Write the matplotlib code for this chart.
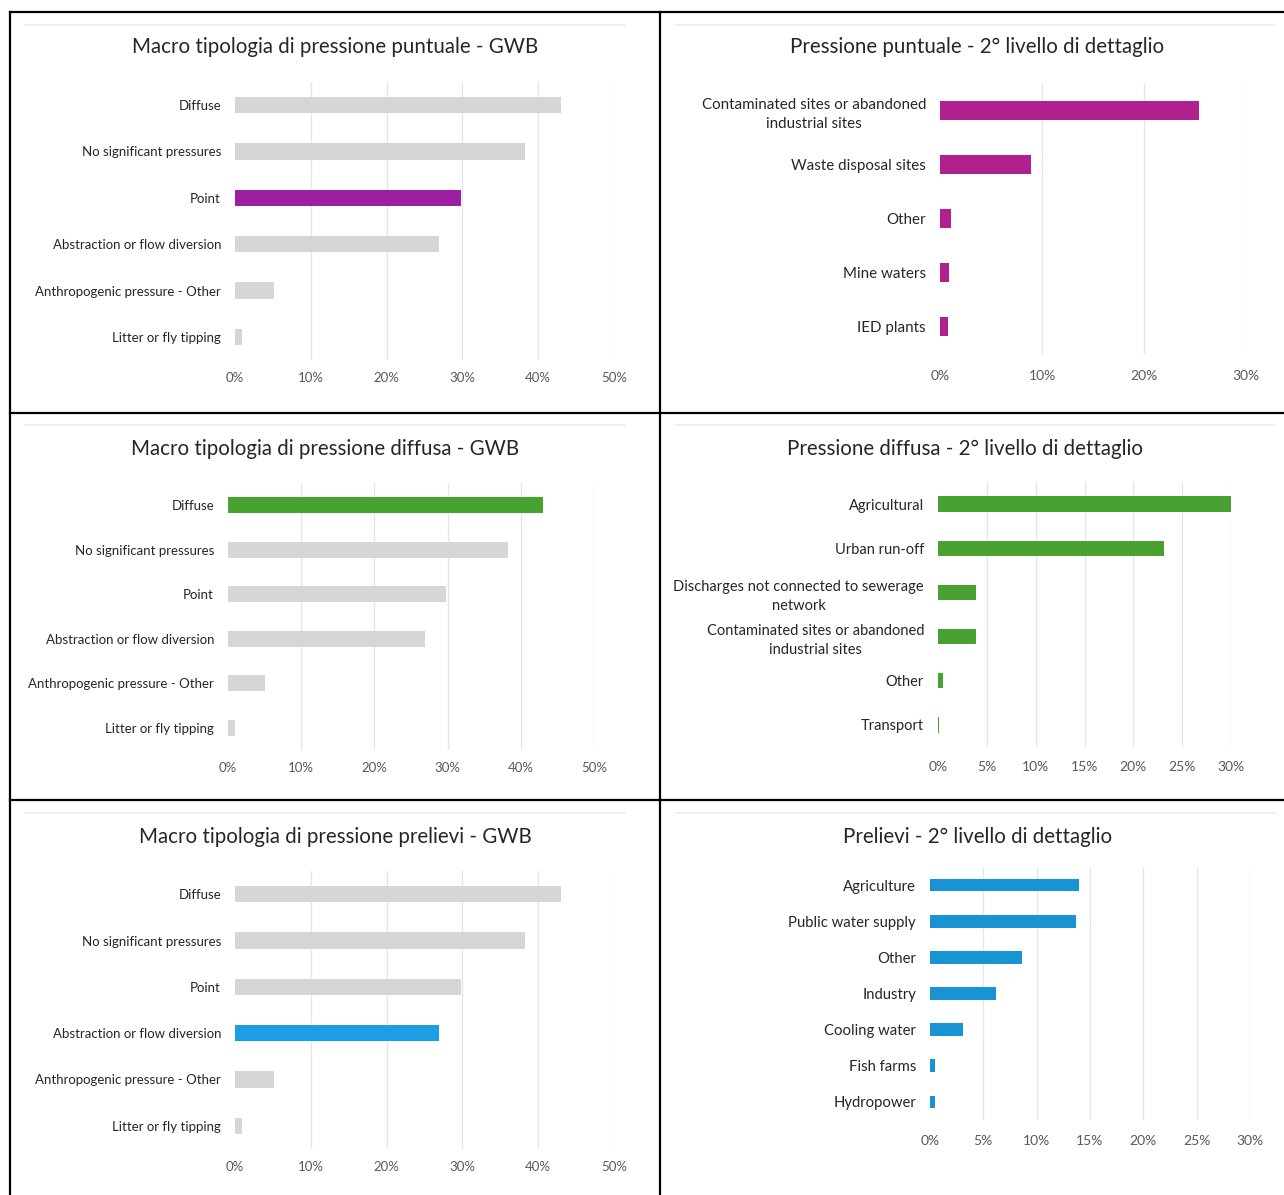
import matplotlib
matplotlib.use("Agg")
import matplotlib.pyplot as plt
from matplotlib.lines import Line2D

plt.rcParams['font.family'] = ['Lato', 'DejaVu Sans']

# ---------------- data ----------------
macro_cats = ["Diffuse", "No significant pressures", "Point",
              "Abstraction or flow diversion", "Anthropogenic pressure - Other",
              "Litter or fly tipping"]
macro_vals = [43.0, 38.2, 29.8, 26.9, 5.1, 0.9]

point_cats = ["Contaminated sites or abandoned\nindustrial sites", "Waste disposal sites",
              "Other", "Mine waters", "IED plants"]
point_vals = [25.4, 8.9, 1.1, 0.9, 0.8]

diffuse_cats = ["Agricultural", "Urban run-off",
                "Discharges not connected to sewerage\nnetwork",
                "Contaminated sites or abandoned\nindustrial sites",
                "Other", "Transport"]
diffuse_vals = [30.2, 23.1, 3.9, 3.9, 0.5, 0.1]

abstr_cats = ["Agriculture", "Public water supply", "Other", "Industry",
              "Cooling water", "Fish farms", "Hydropower"]
abstr_vals = [14.0, 13.7, 8.6, 6.2, 3.1, 0.5, 0.5]

macro_ticks = [0, 10, 20, 30, 40, 50]
point_ticks = [0, 10, 20, 30]
detail_ticks = [0, 5, 10, 15, 20, 25, 30]

titles = ["Macro tipologia di pressione puntuale - GWB",
          "Pressione puntuale - 2° livello di dettaglio",
          "Macro tipologia di pressione diffusa - GWB",
          "Pressione diffusa - 2° livello di dettaglio",
          "Macro tipologia di pressione prelievi - GWB",
          "Prelievi - 2° livello di dettaglio"]

GRAY = "#d6d6d6"
PURPLE = "#9c1fa0"
MAGENTA = "#b0208f"
GREEN = "#48a232"
BLUE = "#1c9fe2"
BLUE2 = "#1894d4"

W, H = 1284, 1195
fig = plt.figure(figsize=(W / 100, H / 100), dpi=100)
fig.patch.set_facecolor("white")


def px_axes(left, right, top, bottom):
    return fig.add_axes([left / W, 1 - bottom / H, (right - left) / W, (bottom - top) / H])


def panel(box, cats, vals, colors, ticks, title, title_xy, tick_y, lab_fs=9.5, tick_fs=9.5):
    left, right, top, bottom = box
    ax = px_axes(left, right, top, bottom)
    n = len(cats)
    ypos = list(range(n))
    for t in ticks[1:]:
        ax.axvline(t, color="#e6e6e6", lw=1.0, zorder=0)
    ax.barh(ypos, vals, height=0.35, color=colors, zorder=2)
    ax.set_xlim(ticks[0], ticks[-1])
    ax.set_ylim(n - 0.5, -0.5)
    ax.set_yticks(ypos)
    labels = ax.set_yticklabels(cats, fontsize=lab_fs, color="#262626")
    for lab in labels:
        lab.set_multialignment("center")
        lab.set_linespacing(1.45)
    ax.set_xticks(ticks)
    ax.set_xticklabels([f"{t}%" for t in ticks], fontsize=tick_fs, color="#595959")
    ax.tick_params(axis="y", length=0, pad=10)
    pad_pts = (tick_y - bottom - 6) * 0.72
    ax.tick_params(axis="x", length=0, pad=pad_pts)
    for s in ax.spines.values():
        s.set_visible(False)
    ax.set_facecolor("none")
    fig.text(title_xy[0] / W, 1 - title_xy[1] / H, title, ha="center", va="center",
             fontsize=14.8, color="#262626")
    return ax


macro_colors_point = [GRAY, GRAY, PURPLE, GRAY, GRAY, GRAY]
macro_colors_diff = [GREEN, GRAY, GRAY, GRAY, GRAY, GRAY]
macro_colors_abs = [GRAY, GRAY, GRAY, BLUE, GRAY, GRAY]

panel((235, 614, 82, 360), macro_cats, macro_vals, macro_colors_point, macro_ticks,
      titles[0], (335, 47), 378)
panel((940, 1246, 83, 354), point_cats, point_vals, [MAGENTA] * len(point_vals), point_ticks,
      titles[1], (977, 47), 376, lab_fs=10.9, tick_fs=10)
panel((228, 594, 483, 750), macro_cats, macro_vals, macro_colors_diff, macro_ticks,
      titles[2], (325, 449), 768)
panel((938, 1231, 482, 747), diffuse_cats, diffuse_vals, [GREEN] * len(diffuse_vals), detail_ticks,
      titles[3], (965, 449), 767, lab_fs=10.5, tick_fs=10)
panel((235, 614, 871, 1149), macro_cats, macro_vals, macro_colors_abs, macro_ticks,
      titles[4], (335, 837), 1167)
panel((930, 1250, 867, 1120), abstr_cats, abstr_vals, [BLUE2] * len(abstr_vals), detail_ticks,
      titles[5], (978, 837), 1141, lab_fs=10.7, tick_fs=10)


def fline(x0, y0, x1, y1, color="black", lw=1.6):
    fig.add_artist(Line2D([x0 / W, x1 / W], [1 - y0 / H, 1 - y1 / H],
                          transform=fig.transFigure, color=color, lw=lw))


# faint separators near top of each panel
for yy in (25, 425, 813):
    fline(25, yy, 625, yy, color="#ededed", lw=1.2)
    fline(675, yy, 1275, yy, color="#ededed", lw=1.2)

# black grid frame
fline(10, 12, 1284, 12)
fline(10, 12, 10, 1195)
fline(660, 12, 660, 1195)
fline(10, 413, 1284, 413)
fline(10, 800, 1284, 800)

fig.savefig("out.png", dpi=100, facecolor="white")
